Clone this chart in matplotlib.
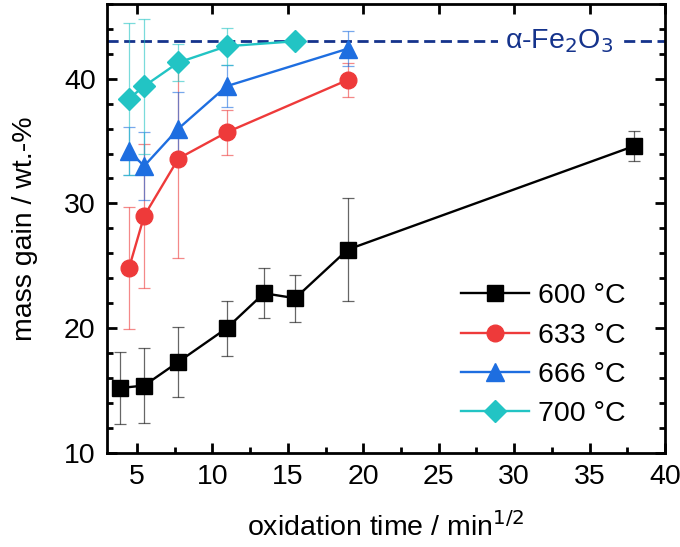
import matplotlib.pyplot as plt
from matplotlib.ticker import MultipleLocator

plt.rcParams["font.family"] = ["Liberation Sans", "DejaVu Sans"]

# oxidation time (min^1/2) and mass gain (wt.-%) with error bars
x_600 = [3.87, 5.48, 7.75, 10.95, 13.42, 15.49, 18.97, 37.95]
y_600 = [15.2, 15.4, 17.3, 20.0, 22.8, 22.4, 26.3, 34.6]
e_600 = [2.9, 3.0, 2.8, 2.2, 2.0, 1.9, 4.1, 1.2]

x_633 = [4.47, 5.48, 7.75, 10.95, 18.97]
y_633 = [24.8, 29.0, 33.6, 35.7, 39.9]
e_633 = [4.9, 5.75, 8.0, 1.8, 1.35]

x_666 = [4.47, 5.48, 7.75, 10.95, 18.97]
y_666 = [34.2, 33.0, 36.0, 39.4, 42.4]
e_666 = [1.9, 2.7, 2.9, 1.7, 1.4]

x_700 = [4.47, 5.48, 7.75, 10.95, 15.49]
y_700 = [38.4, 39.4, 41.3, 42.6, 43.0]
e_700 = [6.1, 5.4, 1.5, 1.5, 0.0]

fe2o3 = 43.0

series = [
    ("600 °C", x_600, y_600, e_600, "black", "s", 11),
    ("633 °C", x_633, y_633, e_633, "#ee3a3a", "o", 12),
    ("666 °C", x_666, y_666, e_666, "#1e6ee0", "^", 13),
    ("700 °C", x_700, y_700, e_700, "#22c4c4", "D", 11),
]

fs = 20.5

fig = plt.figure(figsize=(6.8, 5.47), dpi=100)
ax = fig.add_axes([0.157, 0.172, 0.821, 0.821])

ax.axhline(fe2o3, color="#15338c", ls=(0, (4, 2)), lw=2, zorder=1)
ax.text(33.0, fe2o3, "α-Fe$_2$O$_3$", color="#15338c", fontsize=fs,
        ha="center", va="center",
        bbox=dict(facecolor="white", edgecolor="none", pad=5), zorder=2)

for label, xs, ys, es, c, m, ms in series:
    ax.errorbar(xs, ys, yerr=es, fmt="none", ecolor=c, elinewidth=0.9,
                capsize=4, capthick=0.9, alpha=0.6, zorder=3)
    ax.plot(xs, ys, color=c, marker=m, ms=ms, lw=1.7, label=label, zorder=4)

ax.set_xlim(3, 40)
ax.set_ylim(10, 46)
ax.xaxis.set_major_locator(MultipleLocator(5))
ax.xaxis.set_minor_locator(MultipleLocator(2.5))
ax.yaxis.set_major_locator(MultipleLocator(10))
ax.yaxis.set_minor_locator(MultipleLocator(2))
ax.tick_params(which="both", direction="in", right=True, labelsize=fs, width=2)
ax.tick_params(which="major", top=True, length=7, pad=8)
ax.tick_params(which="minor", top=False, length=4)
for s in ax.spines.values():
    s.set_linewidth(2)

ax.set_xlabel("oxidation time / min$^{1/2}$", fontsize=fs, labelpad=16)
ax.set_ylabel("mass gain / wt.-%", fontsize=fs, labelpad=19)

ax.legend(loc="lower right", fontsize=fs, frameon=False, handlelength=2.4,
          labelspacing=0.47, handletextpad=0.3, bbox_to_anchor=(0.975, 0.0))

fig.savefig("out.png", dpi=100)
